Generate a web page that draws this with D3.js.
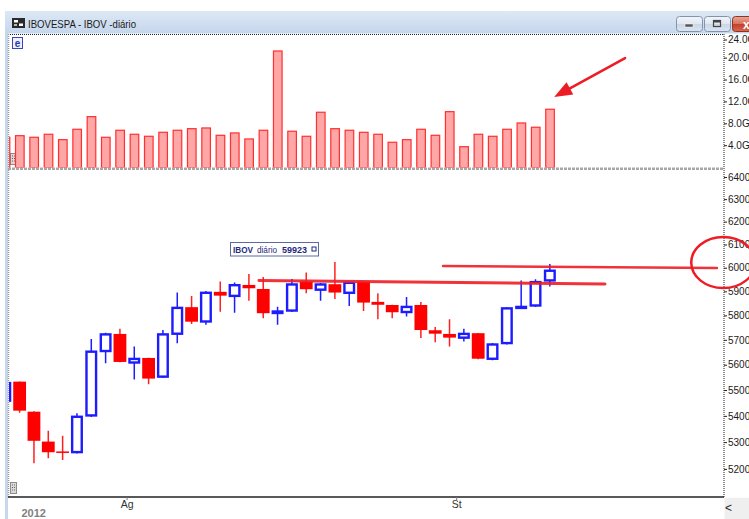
<!DOCTYPE html>
<html>
<head>
<meta charset="utf-8">
<script src="https://cdn.jsdelivr.net/npm/d3@7"></script>
<style>
  html, body { margin: 0; padding: 0; background: #fff; }
  svg { display: block; font-family: 'Liberation Sans', Arial, sans-serif; }
  .axis text { font-size: 10px; fill: #1a1a1a; }
  .axis .tick line { stroke: #222; }
  .axis .domain { display: none; }
</style>
</head>
<body>
<svg id="chart" width="749" height="519"></svg>
<script>
// Daily IBOV, 19 Jul - 12 Sep 2012.
const dates = [
  '2012-07-19', '2012-07-20', '2012-07-23', '2012-07-24', '2012-07-25', '2012-07-26', '2012-07-27',
  '2012-07-30', '2012-07-31', '2012-08-01', '2012-08-02', '2012-08-03', '2012-08-06', '2012-08-07',
  '2012-08-08', '2012-08-09', '2012-08-10', '2012-08-13', '2012-08-14', '2012-08-15', '2012-08-16',
  '2012-08-17', '2012-08-20', '2012-08-21', '2012-08-22', '2012-08-23', '2012-08-24', '2012-08-27',
  '2012-08-28', '2012-08-29', '2012-08-30', '2012-08-31', '2012-09-03', '2012-09-04', '2012-09-05',
  '2012-09-06', '2012-09-10', '2012-09-11', '2012-09-12'
];
const open = [
  54540, 55330, 54160, 53020, 52650, 52580, 53970, 56500, 57240, 56040, 56270, 55480, 57200, 58340,
  57700, 58980, 58760, 59270, 59100, 58050, 58150, 59410, 59020, 59300, 58890, 59410, 58560, 58430,
  58090, 58430, 57390, 57240, 57040, 57270, 56190, 56820, 58300, 58360, 59410
];
const high = [
  55350, 55340, 54180, 53430, 53240, 54100, 57030, 57290, 57450, 56730, 56280, 57400, 58950, 58810,
  59010, 59410, 59370, 59730, 59610, 58360, 59520, 59800, 59350, 60240, 59420, 59420, 58920, 58440,
  58760, 58550, 57520, 57840, 57450, 57280, 56870, 58340, 59460, 59510, 60160
];
const low = [
  54480, 54120, 52210, 52400, 52330, 52570, 53960, 56060, 56100, 55410, 55230, 55470, 56860, 57650,
  57610, 58150, 58110, 58610, 57880, 57610, 58140, 58920, 58610, 58680, 58390, 58180, 57840, 57880,
  57950, 57070, 56900, 56730, 56930, 56220, 56180, 56810, 58280, 58350, 59200
];
const close = [
  55320, 54200, 53050, 52620, 52600, 54010, 56570, 57270, 56110, 56280, 55450, 57270, 58360, 57740,
  58990, 58820, 59310, 59130, 58090, 58210, 59340, 59090, 59340, 58950, 59410, 58530, 58440, 58130,
  58400, 57400, 57250, 57090, 57290, 56240, 56860, 58340, 58400, 59440, 59923
];
// volume in billions
const volume = [
  5.54, 5.83, 5.54, 6.09, 5.10, 7.00, 9.31, 5.54, 6.82, 6.09, 5.72, 6.45, 6.82, 7.11,
  7.24, 5.90, 6.33, 5.23, 6.82, 21.3, 6.64, 5.72, 10.11, 7.11, 6.82, 6.45, 6.09, 4.63,
  5.10, 7.00, 5.90, 10.22, 3.82, 6.09, 5.72, 7.00, 8.15, 7.37, 10.66
];

const priceTicks = [52000, 53000, 54000, 55000, 56000, 57000, 58000, 59000, 60000, 61000, 62000, 63000, 64000];
const volumeTicks = [4, 8, 12, 16, 20, 24];
const monthLabels = ['Ag', 'St'];
const yearLabel = '2012';
const windowTitle = 'IBOVESPA - IBOV -diário';
const seriesName = 'IBOV';
const periodName = 'diário';

// hand drawn marks, in data units (bar index, price / volume)
const resistanceLine = [[17.7, 59460], [41.85, 59310]];
const breakoutLine = [[30.55, 60075], [49.66, 59990]];
const ringAt = [50.1, 60220];
const arrowTail = [43.25, 20.0];
const arrowTip = [38.3, 12.9];

const RED = '#ff0000';
const BLUE = '#1c1cff';
const INK = '#ee1c24';

const svg = d3.select('#chart');
const defs = svg.append('defs');

function gradient(id, stops) {
  const g = defs.append('linearGradient').attr('id', id)
    .attr('x1', 0).attr('y1', 0).attr('x2', 0).attr('y2', 1);
  stops.forEach(([o, c]) => g.append('stop').attr('offset', o).attr('stop-color', c));
}
gradient('titleGrad', [[0, '#dde8f5'], [1, '#c4d6ec']]);
gradient('btnGrad', [[0, '#f3f6fb'], [0.5, '#dfe6f0'], [0.52, '#cbd6e6'], [1, '#dbe5f2']]);
gradient('closeGrad', [[0, '#eaa796'], [0.5, '#d8705c'], [0.52, '#c5402a'], [1, '#d8684f']]);

// plot geometry
const plotLeft = 9, plotRight = 723.5;
const volTop = 34.5, volBottom = 167.6;
const priceTop = 171, priceBottom = 496.7;

const x = d3.scaleLinear().domain([0, 50]).range([5.3, 721.8]);
const yPrice = d3.scaleLog().domain([52000, 64000]).range([468.9, 177]);
const yVol = d3.scaleLinear().domain([0, 24]).range([volBottom, 36.2]);

defs.append('clipPath').attr('id', 'clipVol').append('rect')
  .attr('x', plotLeft).attr('y', volTop).attr('width', plotRight - plotLeft).attr('height', volBottom - volTop);
defs.append('clipPath').attr('id', 'clipPrice').append('rect')
  .attr('x', plotLeft).attr('y', priceTop).attr('width', plotRight - plotLeft).attr('height', priceBottom - priceTop);

// window chrome
svg.append('rect').attr('x', 5).attr('y', 11).attr('width', 744).attr('height', 508).attr('fill', '#c6d8ed');
svg.append('rect').attr('x', 5).attr('y', 11).attr('width', 744).attr('height', 23).attr('fill', 'url(#titleGrad)');
svg.append('rect').attr('x', 8).attr('y', 33.5).attr('width', 741).attr('height', 486).attr('fill', '#fff');

const icon = svg.append('g').attr('transform', 'translate(12,18)');
icon.append('rect').attr('width', 13).attr('height', 10).attr('fill', '#2a2a2a');
icon.append('rect').attr('x', 2).attr('y', 2).attr('width', 4).attr('height', 2.5).attr('fill', '#fff');
icon.append('rect').attr('x', 7).attr('y', 5.5).attr('width', 4).attr('height', 2.5).attr('fill', '#fff');
icon.append('rect').attr('x', 2).attr('y', 6).attr('width', 3).attr('height', 2).attr('fill', '#bbb');

svg.append('text').attr('x', 28).attr('y', 27.5)
  .attr('font-size', 10.5).attr('fill', '#1a1a1a')
  .attr('textLength', 108).attr('lengthAdjust', 'spacingAndGlyphs')
  .text(windowTitle);

const buttons = [
  {x: 676, w: 26, fill: 'url(#btnGrad)', stroke: '#8294ad'},
  {x: 704, w: 26, fill: 'url(#btnGrad)', stroke: '#8294ad'},
  {x: 732, w: 30, fill: 'url(#closeGrad)', stroke: '#8b3526'}
];
svg.selectAll('rect.btn').data(buttons).join('rect').attr('class', 'btn')
  .attr('x', d => d.x + 0.5).attr('y', 16.5).attr('width', d => d.w).attr('height', 15).attr('rx', 3)
  .attr('fill', d => d.fill).attr('stroke', d => d.stroke);
svg.append('rect').attr('x', 685).attr('y', 24).attr('width', 8).attr('height', 3).attr('fill', '#555').attr('stroke', '#fff').attr('stroke-width', 0.5);
svg.append('rect').attr('x', 713.5).attr('y', 20.5).attr('width', 7).attr('height', 6).attr('fill', 'none').attr('stroke', '#444').attr('stroke-width', 1.2);
svg.append('rect').attr('x', 714).attr('y', 21).attr('width', 6).attr('height', 1.5).attr('fill', '#444');
svg.append('text').attr('x', 743).attr('y', 28.5).attr('font-size', 12).attr('font-weight', 'bold')
  .attr('fill', '#fff').text('x');

// panel frames
const frame = svg.append('g');
frame.append('line').attr('x1', 8).attr('x2', 724).attr('y1', 34.5).attr('y2', 34.5)
  .attr('stroke', '#222').attr('stroke-dasharray', '1,1');
frame.append('line').attr('x1', 8.5).attr('x2', 8.5).attr('y1', 34).attr('y2', 497)
  .attr('stroke', '#999').attr('stroke-width', 1.5).attr('stroke-dasharray', '1,1');
frame.append('line').attr('x1', 8).attr('x2', 723).attr('y1', 168.8).attr('y2', 168.8)
  .attr('stroke', '#a8a8a8').attr('stroke-width', 2.5).attr('stroke-dasharray', '3,1');
frame.append('line').attr('x1', 724).attr('x2', 724).attr('y1', 34).attr('y2', 497)
  .attr('stroke', '#222').attr('stroke-dasharray', '1,1');

// panel corner handles
[[10, 153], [10, 482]].forEach(([hx, hy]) => {
  const h = frame.append('g').attr('transform', `translate(${hx},${hy})`);
  h.append('rect').attr('x', 0.5).attr('y', 0.5).attr('width', 6).attr('height', 11)
    .attr('fill', '#d9d9d9').attr('stroke', '#8c8c8c');
  [3, 5.5, 8].forEach(dy => h.append('line').attr('x1', 2).attr('x2', 5).attr('y1', dy).attr('y2', dy)
    .attr('stroke', '#666').attr('stroke-dasharray', '1,1'));
});

const bars = d3.range(dates.length).map(i => ({
  i, o: open[i], h: high[i], l: low[i], c: close[i], v: volume[i], up: close[i] >= open[i]
}));

// volume
svg.append('g').attr('clip-path', 'url(#clipVol)')
  .selectAll('rect').data(bars).join('rect')
  .attr('x', d => x(d.i) - 4.1).attr('width', 8.6)
  .attr('y', d => yVol(d.v)).attr('height', d => yVol(0) - yVol(d.v))
  .attr('fill', '#ffa6a6').attr('stroke', '#ff3030').attr('stroke-width', 1.2);

// candles
const priceG = svg.append('g').attr('clip-path', 'url(#clipPrice)');
priceG.selectAll('line').data(bars).join('line')
  .attr('x1', d => x(d.i)).attr('x2', d => x(d.i))
  .attr('y1', d => yPrice(d.h)).attr('y2', d => yPrice(d.l))
  .attr('stroke', d => d.up ? BLUE : '#ff2020').attr('stroke-width', 1.5);
priceG.selectAll('rect').data(bars).join('rect')
  .attr('x', d => x(d.i) - (d.up ? 4.8 : 6.4))
  .attr('width', d => d.up ? 9.6 : 12.8)
  .attr('y', d => d.up ? yPrice(d.c) + 1.2 : yPrice(d.o))
  .attr('height', d => d.up
    ? Math.max(1, yPrice(d.o) - yPrice(d.c) - 2.4)
    : Math.max(1.5, yPrice(d.c) - yPrice(d.o)))
  .attr('fill', d => d.up ? '#fff' : RED)
  .attr('stroke', d => d.up ? BLUE : 'none')
  .attr('stroke-width', 2.4);

// right axes
const volAxis = svg.append('g').attr('class', 'axis').attr('transform', 'translate(724,0)')
  .call(d3.axisRight(yVol).tickValues(volumeTicks).tickSize(3).tickPadding(1).tickFormat(d => d.toFixed(1) + 'G'));
volAxis.selectAll('.tick').attr('transform', d => `translate(0,${Math.max(yVol(d), volTop + 5.5)})`);

svg.append('g').attr('class', 'axis').attr('transform', 'translate(724,0)')
  .call(d3.axisRight(yPrice).tickValues(priceTicks).tickSize(3).tickPadding(1).tickFormat(d3.format('d')));

// time axis
svg.append('line').attr('x1', 8).attr('x2', 724).attr('y1', 497).attr('y2', 497)
  .attr('stroke', '#222').attr('stroke-width', 1.5);
const monthStarts = bars.filter(d => d.i > 0 && dates[d.i].slice(5, 7) !== dates[d.i - 1].slice(5, 7));
const timeTicks = svg.append('g').selectAll('g').data(monthStarts).join('g')
  .attr('transform', d => `translate(${x(d.i - 0.5)},0)`);
timeTicks.append('line').attr('y1', 497).attr('y2', 500).attr('stroke', '#777');
timeTicks.append('text').attr('y', 507.5).attr('text-anchor', 'middle')
  .attr('font-size', 10.5).attr('fill', '#333').text((d, k) => monthLabels[k]);

svg.append('text').attr('x', 21.5).attr('y', 517).attr('font-size', 11).attr('font-weight', 'bold')
  .attr('fill', '#7f7f7f').text(yearLabel);

svg.append('rect').attr('x', 724.5).attr('y', 497.8).attr('width', 25).attr('height', 22).attr('fill', '#efefef');
svg.append('text').attr('x', 725).attr('y', 512).attr('font-size', 12).attr('fill', '#222').text('<');

// panel tags
svg.append('rect').attr('x', 12.5).attr('y', 37.5).attr('width', 10).attr('height', 11)
  .attr('fill', '#eef0ff').attr('stroke', '#3a46b8');
svg.append('text').attr('x', 17.5).attr('y', 46.5).attr('text-anchor', 'middle')
  .attr('font-size', 10).attr('font-weight', 'bold').attr('fill', '#2a36a8').text('e');

const legend = svg.append('g').attr('transform', 'translate(230.5,242.5)');
legend.append('rect').attr('width', 88).attr('height', 13.5).attr('fill', '#fff').attr('stroke', '#5c6aa2');
legend.append('text').attr('x', 2.5).attr('y', 10.5).attr('font-size', 9.5).attr('font-weight', 'bold')
  .attr('fill', '#1f2a7c').attr('textLength', 20).attr('lengthAdjust', 'spacingAndGlyphs').text(seriesName);
legend.append('text').attr('x', 26.5).attr('y', 10).attr('font-size', 8.5)
  .attr('fill', '#1f2a7c').attr('textLength', 20).attr('lengthAdjust', 'spacingAndGlyphs').text(periodName);
legend.append('text').attr('x', 51.5).attr('y', 10.5).attr('font-size', 9.5).attr('font-weight', 'bold')
  .attr('fill', '#1f2a7c').attr('textLength', 25).attr('lengthAdjust', 'spacingAndGlyphs')
  .text(d3.format('d')(close[close.length - 1]));
legend.append('rect').attr('x', 81.5).attr('y', 4.5).attr('width', 4).attr('height', 4)
  .attr('fill', 'none').attr('stroke', '#1f2a7c');

// annotations
const priceLine = d3.line().x(d => x(d[0])).y(d => yPrice(d[1]));
const notes = svg.append('g').attr('fill', 'none').attr('stroke', INK).attr('stroke-linecap', 'round');
notes.append('path').attr('d', priceLine(resistanceLine)).attr('stroke-width', 3).attr('opacity', 0.9);
notes.append('path').attr('d', priceLine(breakoutLine)).attr('stroke-width', 2.5).attr('opacity', 0.9);
notes.append('ellipse').attr('cx', x(ringAt[0])).attr('cy', yPrice(ringAt[1]))
  .attr('rx', 32).attr('ry', 25.5).attr('stroke-width', 2.5);

const [tx, ty] = [x(arrowTail[0]), yVol(arrowTail[1])];
const [hx, hy] = [x(arrowTip[0]), yVol(arrowTip[1])];
const ang = Math.atan2(hy - ty, hx - tx);
const back = 18, half = 7;
const bx = hx - back * Math.cos(ang), by = hy - back * Math.sin(ang);
notes.append('line').attr('x1', tx).attr('y1', ty).attr('x2', bx).attr('y2', by).attr('stroke-width', 2.5);
notes.append('path')
  .attr('d', `M${hx},${hy}L${bx + half * Math.sin(ang)},${by - half * Math.cos(ang)}L${bx - half * Math.sin(ang)},${by + half * Math.cos(ang)}Z`)
  .attr('fill', INK).attr('stroke', 'none');
</script>
</body>
</html>
